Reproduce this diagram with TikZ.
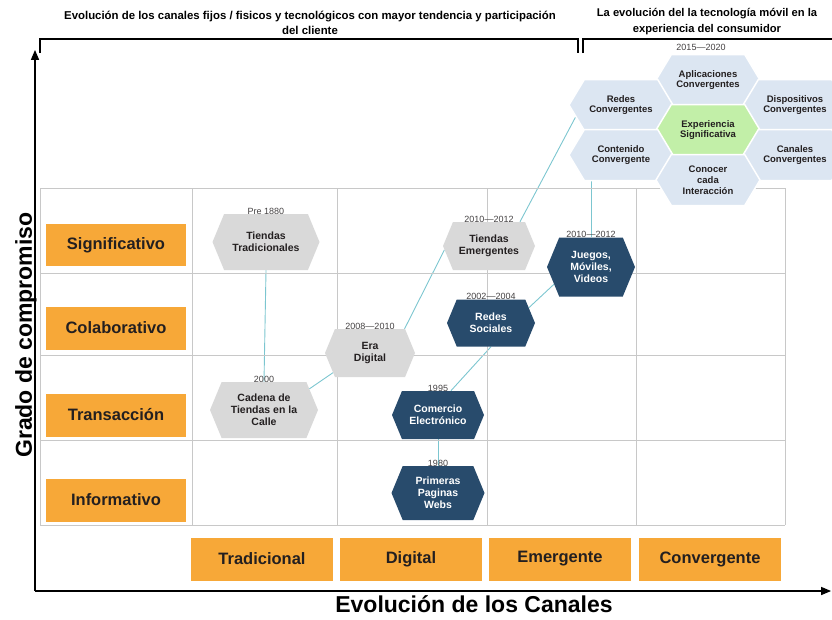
\documentclass[tikz,border=0pt]{standalone}
\usepackage{fontspec}
\setmainfont{Liberation Sans}
\usetikzlibrary{arrows,shapes.symbols,positioning,backgrounds}
\definecolor{naranja}{HTML}{F7A838}
\definecolor{grisHex}{HTML}{D9D9D9}
\definecolor{azulHex}{HTML}{284B6C}
\definecolor{celeste}{HTML}{DCE6F2}
\definecolor{verdeHex}{HTML}{C2EFA8}
\definecolor{linea}{HTML}{7CC6D0}
\definecolor{rejilla}{HTML}{C8C8C8}
\definecolor{texto}{HTML}{231F20}

\begin{document}
\begin{tikzpicture}[x=1pt,y=-1pt,>=triangle 45,
  hexa/.style={signal, signal to=east and west, signal pointer angle=135,
    inner sep=0pt, align=center, font=\bfseries\fontsize{10.5}{11.8}\selectfont},
  hexgris/.style={hexa, fill=grisHex, text=texto},
  hexazul/.style={hexa, fill=azulHex, text=white},
  hexcel/.style={hexa, fill=celeste, draw=white, line width=1.5pt, text=texto,
    signal pointer angle=118, minimum width=104pt, minimum height=51pt,
    font=\bfseries\fontsize{9.5}{10.8}\selectfont},
  anio/.style={inner sep=0pt, font=\fontsize{9}{10}\selectfont, text=texto!85},
  caja/.style={fill=naranja, text=texto, inner sep=0pt,
    font=\bfseries\fontsize{16.5}{18}\selectfont},
  enlace/.style={draw=linea, line width=0.9pt},
  cuadro/.style={draw=rejilla, line width=0.8pt}]
\useasboundingbox (0,0) rectangle (832,619);

% titulos y llaves
\node (tit1) [align=center, font=\bfseries\fontsize{11.4}{15}\selectfont] at (310,23)
  {Evolución de los canales fijos / fisicos y tecnológicos con mayor tendencia y participación\\del cliente};
\node (tit2) [align=center, font=\bfseries\fontsize{11.2}{16}\selectfont] at (707,22)
  {La evolución del la tecnología móvil en la\\experiencia del consumidor};
\draw[line width=1.3pt] (40,53) -- (40,39) -- (578,39) -- (578,53);
\draw[line width=1.3pt] (583,53) -- (583,39) -- (832,39);

% ejes
\coordinate (origen) at (35,591);
\coordinate (ytop) at (35,50);
\coordinate (xfin) at (831,591);
\draw[->, line width=1.3pt] (origen) -- (ytop);
\draw[->, line width=1.3pt] (origen) -- (xfin);
\node (ejey) [rotate=90, font=\bfseries\fontsize{23}{26}\selectfont] at (26,335) {Grado de compromiso};
\node (ejex) [font=\bfseries\fontsize{23}{26}\selectfont] at (474,604) {Evolución de los Canales};

% rejilla
\foreach \y in {188,273,355,440,525}
  \draw[cuadro] (40,\y) -- (785,\y);
\foreach \x in {40,192,337,487,636,785}
  \draw[cuadro] (\x,188) -- (\x,525);

% filas y columnas
\node (sig) [caja, minimum width=140pt, minimum height=42pt] at (116,245) {Significativo};
\node (col) [caja, minimum width=140pt, minimum height=43pt] at (116,328) {Colaborativo};
\node (tra) [caja, minimum width=140pt, minimum height=43pt] at (116,415) {Transacción};
\node (inf) [caja, minimum width=140pt, minimum height=43pt] at (116,500) {Informativo};
\node (trad) [caja, minimum width=142pt, minimum height=43pt] at (262,559) {Tradicional};
\node (digi) [caja, minimum width=142pt, minimum height=43pt] at (411,559) {Digital};
\node (emer) [caja, minimum width=142pt, minimum height=43pt] at (560,559) {Emergente};
\node (conv) [caja, minimum width=142pt, minimum height=43pt] at (710,559) {Convergente};

% hexagonos de la evolucion
\node (tiendas) [hexgris, minimum width=107pt, minimum height=56pt] at (266,242) {Tiendas\\Tradicionales};
\node (cadena) [hexgris, minimum width=108pt, minimum height=56pt] at (264,410) {Cadena de\\Tiendas en la\\Calle};
\node (era) [hexgris, minimum width=90pt, minimum height=48pt] at (370,353) {Era\\Digital};
\node (emerg) [hexgris, minimum width=92pt, minimum height=48pt] at (489,246) {Tiendas\\Emergentes};
\node (sociales) [hexazul, minimum width=88pt, minimum height=47pt] at (491,323) {Redes\\Sociales};
\node (juegos) [hexazul, minimum width=88pt, minimum height=59pt] at (591,267) {Juegos,\\Móviles,\\Videos};
\node (comercio) [hexazul, minimum width=92pt, minimum height=48pt] at (438,415) {Comercio\\Electrónico};
\node (primeras) [hexazul, minimum width=93pt, minimum height=54pt] at (438,493) {Primeras\\Paginas\\Webs};

\node (a1) [anio, above=-0.5pt of tiendas] {Pre 1880};
\node (a2) [anio, above=-0.5pt of cadena] {2000};
\node (a3) [anio, above=-0.5pt of era] {2008—2010};
\node (a4) [anio, above=-0.5pt of emerg] {2010—2012};
\node (a5) [anio, above=-0.5pt of sociales] {2002—2004};
\node (a6) [anio, above=-0.5pt of juegos] {2010—2012};
\node (a7) [anio, above=-0.5pt of comercio] {1995};
\node (a8) [anio, above=-0.5pt of primeras] {1980};

% panal convergente
\node (aplic) [hexcel] at (708,80) {Aplicaciones\\Convergentes};
\node (redesc) [hexcel] at (621,105) {Redes\\Convergentes};
\node (dispo) [hexcel] at (795,105) {Dispositivos\\Convergentes};
\node (exper) [hexcel, fill=verdeHex] at (708,130) {Experiencia\\Significativa};
\node (conten) [hexcel] at (621,155) {Contenido\\Convergente};
\node (canal) [hexcel] at (795,155) {Canales\\Convergentes};
\node (conoc) [hexcel] at (708,180) {Conocer\\cada\\Interacción};
\node (a9) [anio] at (701,47) {2015—2020};

\begin{scope}[on background layer]
\draw[enlace] (tiendas.south) -- (cadena.north);
\draw[enlace] (cadena.25) -- (era.208);
\draw[enlace] (era.35) -- (emerg.185);
\draw[enlace] (emerg.38) -- (redesc.195);
\draw[enlace] (comercio.62) -- (sociales.south);
\draw[enlace] (sociales.22) -- (juegos.205);
\draw[enlace] (juegos.north) -- (juegos.north |- conten.south);
\draw[enlace] (comercio.south) -- (primeras.north);
\end{scope}
\end{tikzpicture}
\end{document}
